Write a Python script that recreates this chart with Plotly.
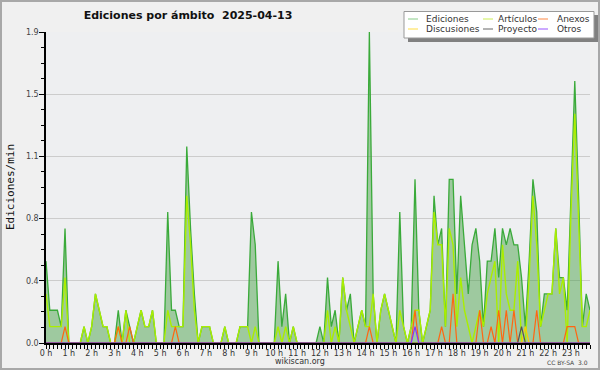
import plotly.graph_objects as go

# x: minutes since 00:00, one bin every 10 minutes
minutes = list(range(0, 1440, 10))
hour_ticks = list(range(0, 1440, 60))
hour_labels = ["0 h", "1 h", "2 h", "3 h", "4 h", "5 h", "6 h", "7 h", "8 h", "9 h",
               "10 h", "11 h", "12 h", "13 h", "14 h", "15 h", "16 h", "17 h", "18 h",
               "19 h", "20 h", "21 h", "22 h", "23 h"]

y_tick_vals = [0, 0.38, 0.76, 1.14, 1.52, 1.9]
y_tick_text = ["0.0", "0.4", "0.8", "1.1", "1.5", "1.9"]

# edits per minute, one row per hour (6 bins of 10 minutes)
ediciones = [
    0.5, 0.2, 0.2, 0.2, 0.1, 0.7,
    0, 0, 0, 0, 0.1, 0,
    0.1, 0.3, 0.2, 0.1, 0.1, 0,
    0, 0.2, 0, 0.2, 0.1, 0,
    0.1, 0.2, 0.1, 0.1, 0.2, 0,
    0, 0, 0.8, 0.2, 0.2, 0.1,
    0.1, 1.2, 0.7, 0.3, 0, 0.1,
    0.1, 0.1, 0, 0, 0, 0.1,
    0, 0, 0, 0.1, 0.1, 0.1,
    0.8, 0.6, 0, 0, 0, 0,
    0, 0.5, 0.1, 0.3, 0, 0.1,
    0, 0, 0, 0, 0, 0,
    0.1, 0, 0.4, 0.1, 0.2, 0,
    0.4, 0.2, 0.3, 0, 0.1, 0.2,
    0.1, 1.9, 0.3, 0, 0.2, 0.3,
    0.2, 0.1, 0, 0.8, 0.1, 0,
    0.1, 1.0, 0.2, 0, 0.1, 0.2,
    0.9, 0.6, 0.7, 0.1, 1.0, 1.0,
    0.3, 0.9, 0.6, 0.3, 0.6, 0.7,
    0.5, 0.1, 0.5, 0.5, 0.7, 0.4,
    0.7, 0.6, 0.7, 0.6, 0.6, 0.4,
    0.1, 0.5, 1.0, 0.8, 0.1, 0.3,
    0.3, 0.3, 0.7, 0.4, 0.4, 0.2,
    0.9, 1.6, 0.9, 0.1, 0.3, 0.2,
]

articulos = [
    0.3, 0.1, 0.1, 0.1, 0.1, 0.4,
    0, 0, 0, 0, 0.1, 0,
    0.1, 0.3, 0.2, 0.1, 0.1, 0,
    0, 0.1, 0, 0.2, 0, 0,
    0.1, 0.2, 0.1, 0.1, 0.2, 0,
    0, 0, 0.2, 0.1, 0.1, 0.1,
    0.1, 0.9, 0.6, 0.2, 0, 0.1,
    0.1, 0.1, 0, 0, 0, 0.1,
    0, 0, 0, 0.1, 0.1, 0.1,
    0, 0.1, 0, 0, 0, 0,
    0, 0.1, 0, 0.1, 0, 0.1,
    0, 0, 0, 0, 0, 0,
    0, 0, 0.2, 0, 0.1, 0,
    0.4, 0.2, 0.1, 0, 0.1, 0.2,
    0.1, 0.1, 0.3, 0, 0.2, 0.3,
    0.2, 0.1, 0, 0.2, 0.1, 0,
    0.1, 0.2, 0.2, 0, 0.1, 0.2,
    0.8, 0.6, 0.6, 0.1, 0.7, 0.6,
    0.1, 0.4, 0.2, 0.1, 0, 0.1,
    0.2, 0.1, 0.3, 0.4, 0.5, 0,
    0.6, 0.3, 0.2, 0.2, 0.5, 0,
    0, 0.4, 0.9, 0.6, 0.1, 0.2,
    0.3, 0.3, 0.7, 0.3, 0.4, 0,
    0.8, 1.4, 0.8, 0.1, 0.1, 0.2,
]

anexos = [
    0, 0, 0, 0, 0, 0.1,
    0, 0, 0, 0, 0, 0,
    0, 0, 0, 0, 0, 0,
    0, 0.1, 0, 0, 0.1, 0,
    0, 0, 0, 0, 0, 0,
    0, 0, 0, 0, 0.1, 0,
    0, 0, 0, 0, 0, 0,
    0, 0, 0, 0, 0, 0,
    0, 0, 0, 0, 0, 0,
    0, 0, 0, 0, 0, 0,
    0, 0, 0, 0, 0, 0,
    0, 0, 0, 0, 0, 0,
    0, 0, 0, 0, 0, 0,
    0, 0, 0, 0, 0, 0,
    0, 0.1, 0, 0, 0, 0,
    0, 0, 0, 0, 0, 0,
    0, 0.2, 0, 0, 0, 0,
    0, 0, 0.1, 0, 0, 0.3,
    0, 0, 0, 0, 0, 0,
    0.2, 0, 0, 0.1, 0, 0.2,
    0, 0.2, 0, 0.2, 0, 0,
    0, 0, 0, 0.2, 0, 0,
    0, 0, 0, 0, 0, 0.1,
    0.1, 0.1, 0, 0, 0, 0,
]

discusiones = [0] * 126 + [0.1] + [0] * 17
proyecto = [0] * 125 + [0.1] + [0] * 18
otros = [0] * 97 + [0.1] + [0] * 46

fig = go.Figure()
fig.add_trace(go.Scatter(x=minutes, y=ediciones, mode="lines", fill="tozeroy",
                         fillcolor="rgba(60,156,60,0.45)",
                         line=dict(color="#3aaa3a", width=1.3), name="Ediciones"))
fig.add_trace(go.Scatter(x=minutes, y=articulos, mode="lines",
                         line=dict(color="#aaee00", width=1.4), name="Artículos"))
fig.add_trace(go.Scatter(x=minutes, y=anexos, mode="lines",
                         line=dict(color="#ff6611", width=1.2), name="Anexos"))
fig.add_trace(go.Scatter(x=minutes, y=discusiones, mode="lines",
                         line=dict(color="#ffcc00", width=1.2), name="Discusiones"))
fig.add_trace(go.Scatter(x=minutes, y=proyecto, mode="lines",
                         line=dict(color="#555555", width=1.2), name="Proyecto"))
fig.add_trace(go.Scatter(x=minutes, y=otros, mode="lines",
                         line=dict(color="#8833ff", width=1.2), name="Otros"))

fig.update_layout(
    width=600, height=370,
    margin=dict(l=46, r=10, t=32, b=27, autoexpand=False),
    paper_bgcolor="#f0f0f0",
    plot_bgcolor="#eeeff1",
    showlegend=False,
    font=dict(family="DejaVu Sans", size=8, color="#333333"),
    title=dict(text="<b>Ediciones por ámbito  2025-04-13</b>", x=188 / 600, xanchor="center",
               y=1 - 15 / 370, yanchor="middle",
               font=dict(family="DejaVu Sans", size=11, color="#111111")),
)

fig.update_xaxes(
    range=[0, 1430], tickmode="array", tickvals=hour_ticks, ticktext=hour_labels,
    ticks="outside", ticklen=4, tickcolor="black", tickwidth=1, automargin=False,
    ticklabelstandoff=-3,
    showline=True, linecolor="black", linewidth=2, showgrid=False, zeroline=False,
    minor=dict(tick0=0, dtick=10, ticks="outside", ticklen=4, tickcolor="black", showgrid=False),
    tickfont=dict(family="DejaVu Sans", size=8, color="#333333"),
)
fig.update_yaxes(
    range=[0, 1.9], tickmode="array", tickvals=y_tick_vals, ticktext=y_tick_text,
    ticks="outside", ticklen=5, tickcolor="black", tickwidth=1, automargin=False,
    ticklabelstandoff=-1,
    showline=True, linecolor="black", linewidth=1.5,
    showgrid=True, gridcolor="#cccccc", gridwidth=1, zeroline=False,
    minor=dict(tick0=0, dtick=0.095, ticks="outside", ticklen=3, tickcolor="black", showgrid=False),
    tickfont=dict(family="DejaVu Sans", size=8, color="#444444"),
)

def px(x):
    return (x - 46) / 544.0

def py(y):
    return (343 - y) / 311.0

# outer border
fig.add_shape(type="rect", xref="paper", yref="paper", x0=px(1), x1=px(599),
              y0=py(369), y1=py(1), line=dict(color="#a8a8a8", width=2), layer="below")

# y-axis title
fig.add_annotation(text="Ediciones/min", xref="paper", yref="paper", x=px(10), y=py(187),
                   xanchor="center", yanchor="middle", textangle=-90, showarrow=False,
                   font=dict(family="DejaVu Sans Mono", size=11, color="#111111"))

# legend box (shadow + box)
fig.add_shape(type="rect", xref="paper", yref="paper", x0=px(408), x1=px(598),
              y0=py(42), y1=py(15), fillcolor="#808080", line=dict(width=0))
fig.add_shape(type="rect", xref="paper", yref="paper", x0=px(404), x1=px(594),
              y0=py(38), y1=py(11.5), fillcolor="#ffffff", line=dict(color="#999999", width=1))

legend_names = ["Ediciones", "Artículos", "Anexos", "Discusiones", "Proyecto", "Otros"]
legend_colors = ["#88cc88", "#ccee55", "#ff8844", "#ffdd44", "#666666", "#9955ff"]
legend_cols = [(408, 424), (483, 496), (538, 555)]
legend_rows = [19, 29]
for k, (name, col) in enumerate(zip(legend_names, legend_colors)):
    r, c = divmod(k, 3)
    lx, tx = legend_cols[c]
    yy = legend_rows[r]
    fig.add_shape(type="line", xref="paper", yref="paper", x0=px(lx), x1=px(lx + 10),
                  y0=py(yy), y1=py(yy), line=dict(color=col, width=1))
    fig.add_annotation(text=name, xref="paper", yref="paper", x=px(tx), y=py(yy),
                       xanchor="left", yanchor="middle", showarrow=False,
                       font=dict(family="DejaVu Sans", size=9, color="#333333"))

fig.add_annotation(text="wikiscan.org", xref="paper", yref="paper", x=px(300), y=py(361),
                   xanchor="center", yanchor="middle", showarrow=False,
                   font=dict(family="DejaVu Sans", size=8, color="#333333"))
fig.add_annotation(text="CC BY-SA  3.0", xref="paper", yref="paper", x=px(590), y=py(362),
                   xanchor="right", yanchor="middle", showarrow=False,
                   font=dict(family="DejaVu Sans", size=6, color="#444444"))

fig.write_html("out.html", config={"displayModeBar": False},
               post_script="document.body.style.margin='0';document.body.style.padding='0';")
